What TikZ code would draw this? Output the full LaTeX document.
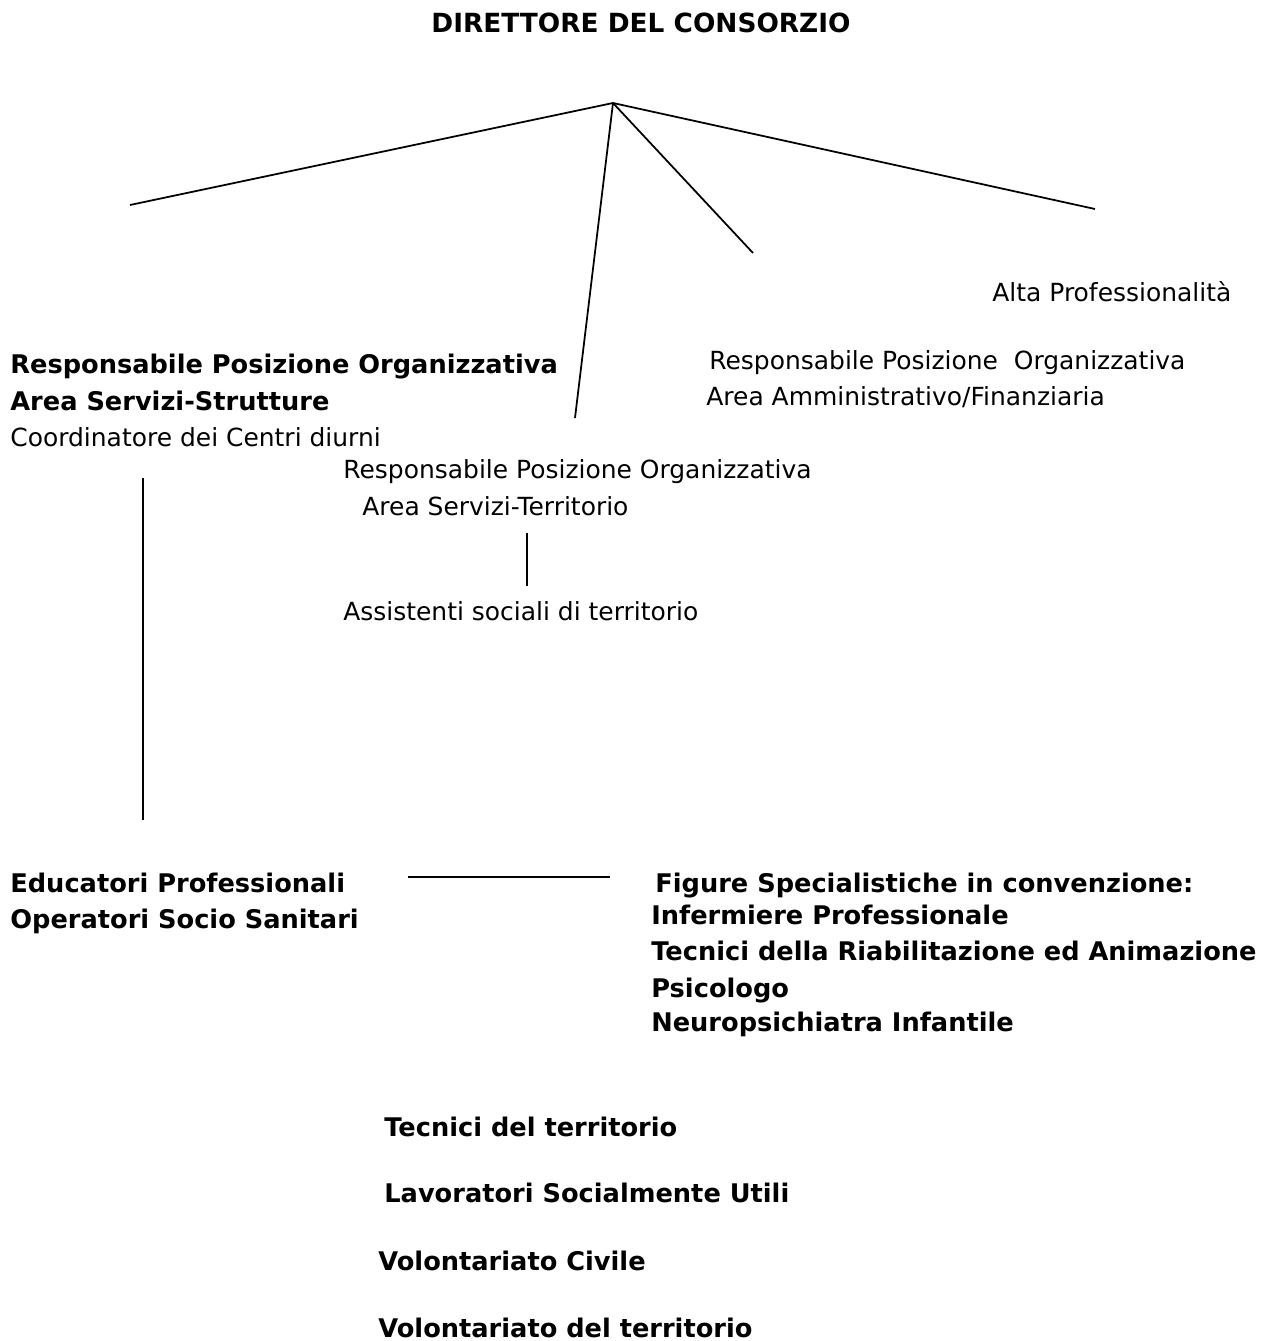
\documentclass[tikz,border=0pt]{standalone}
\usepackage{fontspec}
\setmainfont{DejaVu Sans}
\usepackage{tikz}

\begin{document}
\begin{tikzpicture}[scale=0.2]
    \tikzstyle{every node}+=[inner sep=0pt, anchor=base west, font=\fontsize{14.2}{17}\selectfont]
    \tikzstyle{boldtext}=[font=\fontsize{14.6}{17}\selectfont\bfseries]
    \tikzstyle{link}=[black, line width=1pt]
    \useasboundingbox (0,0) rectangle (126.5,-134.1);
    \node [boldtext, anchor=base, font=\fontsize{15}{17}\selectfont\bfseries] (dir) at (64.1,-3.2) {DIRETTORE DEL CONSORZIO};
    \coordinate (top) at (61.3,-10.3);
    \coordinate (endsx) at (13,-20.5);
    \coordinate (enddx) at (109.5,-20.9);
    \coordinate (endamm) at (75.3,-25.3);
    \coordinate (endter) at (57.5,-41.8);
    \draw [link] (top) -- (endsx);
    \draw [link] (top) -- (enddx);
    \draw [link] (top) -- (endamm);
    \draw [link] (top) -- (endter);
    \node (alta) at (99.2,-30.1) {Alta Professionalità};
    \node (amm1) at (70.9,-36.9) {Responsabile Posizione\ \ Organizzativa};
    \node (amm2) at (70.6,-40.5) {Area Amministrativo/Finanziaria};
    \node [boldtext] (str1) at (1,-37.3) {Responsabile Posizione Organizzativa};
    \node [boldtext] (str2) at (1,-41) {Area Servizi-Strutture};
    \node (str3) at (1,-44.6) {Coordinatore dei Centri diurni};
    \node (ter1) at (34.3,-47.8) {Responsabile Posizione Organizzativa};
    \node (ter2) at (36.2,-51.5) {Area Servizi-Territorio};
    \node (ass) at (34.3,-62) {Assistenti sociali di territorio};
    \coordinate (ta) at (52.7,-53.3);
    \coordinate (tb) at (52.7,-58.6);
    \draw [link] (ta) -- (tb);
    \node [boldtext] (edu1) at (1,-89.2) {Educatori Professionali};
    \node [boldtext] (edu2) at (1,-92.8) {Operatori Socio Sanitari};
    \coordinate (sa) at (14.3,-47.8);
    \coordinate (sb) at (14.3,-82);
    \draw [link] (sa) -- (sb);
    \coordinate (ha) at (40.8,-87.7);
    \coordinate (hb) at (61,-87.7);
    \draw [link] (ha) -- (hb);
    \node [boldtext] (fig1) at (65.5,-89.2) {Figure Specialistiche in convenzione:};
    \node [boldtext] (fig2) at (65.1,-92.4) {Infermiere Professionale};
    \node [boldtext] (fig3) at (65.1,-96) {Tecnici della Riabilitazione ed Animazione};
    \node [boldtext] (fig4) at (65.1,-99.7) {Psicologo};
    \node [boldtext] (fig5) at (65.1,-103.1) {Neuropsichiatra Infantile};
    \node [boldtext] (vol1) at (38.4,-113.6) {Tecnici del territorio};
    \node [boldtext] (vol2) at (38.4,-120.2) {Lavoratori Socialmente Utili};
    \node [boldtext] (vol3) at (37.8,-127) {Volontariato Civile};
    \node [boldtext] (vol4) at (37.8,-133.7) {Volontariato del territorio};
\end{tikzpicture}
\end{document}
